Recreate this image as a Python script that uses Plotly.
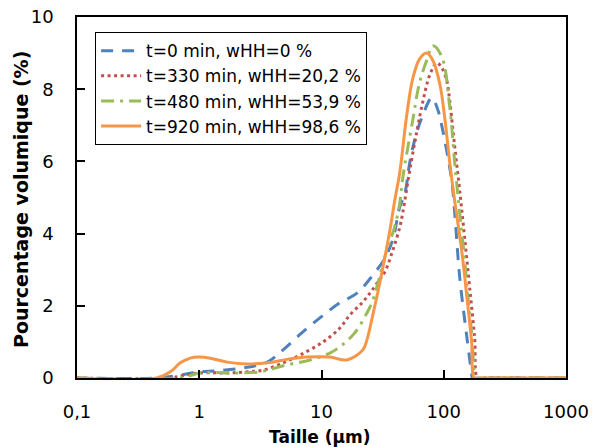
import plotly.graph_objects as go

# ---- data ----
series_names = ["t=0 min, wHH=0 %", "t=330 min, wHH=20,2 %",
                "t=480 min, wHH=53,9 %", "t=920 min, wHH=98,6 %"]

size_t0 = [0.1, 0.45, 0.7, 1.0, 1.4, 2.3, 3.6, 4.85, 6.9, 10, 14.1, 19.5, 26.3, 33, 38.4,
           43.7, 48, 52.7, 57.9, 66, 80, 89, 98, 116, 123, 135, 153, 169, 172, 200, 1000]
vol_t0 = [0, 0, 0.08, 0.17, 0.2, 0.28, 0.44, 0.78, 1.25, 1.7, 2.08, 2.35, 2.85, 3.32, 3.85,
          4.74, 5.1, 5.96, 6.6, 7.2, 7.76, 7.45, 6.87, 5.48, 4.57, 2.8, 1.25, 0.14, 0, 0, 0]

size_t330 = [0.1, 0.55, 0.75, 1.0, 1.7, 2.46, 3.33, 4.85, 6.7, 10.3, 14.1, 17.1, 21.4, 24.9,
             28.9, 33, 38.4, 43.7, 46.3, 52.7, 60, 67.4, 77, 87.6, 96, 105.6, 111.7, 123,
             135, 148, 163, 179, 189, 210, 1000]
vol_t330 = [0, 0, 0.07, 0.14, 0.14, 0.17, 0.22, 0.42, 0.64, 1.0, 1.38, 1.75, 2.08, 2.35,
            2.66, 2.94, 3.55, 4.18, 4.6, 5.75, 6.8, 7.65, 8.4, 8.73, 8.6, 8.25, 7.7, 6.4,
            5.2, 3.9, 2.5, 1.1, 0, 0, 0]

size_t480 = [0.1, 0.7, 1.02, 1.9, 3.15, 5.0, 8.06, 11.7, 14.7, 18.7, 23.5, 26.3, 34.3, 39.8,
             43.7, 46.3, 55.8, 63.3, 72.6, 81.5, 96.4, 112, 123, 135, 148, 157, 169, 176,
             179, 200, 1000]
vol_t480 = [0, 0, 0.14, 0.14, 0.17, 0.35, 0.5, 0.69, 0.91, 1.25, 1.8, 2.16, 3.55, 4.2,
            4.85, 5.57, 7.15, 8.17, 8.8, 9.2, 8.9, 7.5, 5.96, 4.57, 3.3, 2.3, 1.25, 0.3,
            0, 0, 0]

size_t920 = [0.1, 0.45, 0.58, 0.7, 0.845, 0.98, 1.23, 1.69, 2.46, 3.6, 5.5, 7.6, 11.7, 16.1,
             21.8, 23.5, 26.3, 30, 33, 36.3, 39.8, 43.7, 49.9, 55.8, 63.7, 72.6, 81.3, 92.8,
             102, 112, 123, 140, 154, 169, 178, 200, 1000]
vol_t920 = [0, 0, 0.17, 0.42, 0.55, 0.58, 0.55, 0.44, 0.39, 0.42, 0.53, 0.58, 0.58, 0.5,
            0.78, 1.05, 1.75, 2.63, 3.35, 4.1, 4.93, 5.7, 7.3, 8.3, 8.85, 9.0, 8.8, 8.15,
            7.2, 5.96, 4.9, 3.55, 2.3, 1.0, 0, 0, 0]

x_tick_vals = [0.1, 1, 10, 100, 1000]
x_tick_text = ["0,1", "1", "10", "100", "1000"]
y_tick_vals = [0, 2, 4, 6, 8, 10]

colors = ["#4F81BD", "#C0504D", "#9BBB59", "#F79646"]
dashes = ["12px,9px", "3px,3.5px", "13px,6px,3px,6px", "solid"]

FONT = "DejaVu Sans"

fig = go.Figure()
for name, xs, ys, c, d in zip(series_names,
                              [size_t0, size_t330, size_t480, size_t920],
                              [vol_t0, vol_t330, vol_t480, vol_t920],
                              colors, dashes):
    fig.add_trace(go.Scatter(x=xs, y=ys, mode="lines", name=name,
                             line=dict(color=c, width=3, dash=d, shape="spline",
                                       smoothing=1)))

fig.update_layout(
    width=592, height=447,
    margin=dict(l=77, r=26, t=17, b=69, autoexpand=False),
    paper_bgcolor="white", plot_bgcolor="white",
    font=dict(family=FONT, size=18, color="black"),
    showlegend=True,
    legend=dict(x=0.037, y=0.958, xanchor="left", yanchor="top",
                bgcolor="white", bordercolor="black", borderwidth=1,
                font=dict(family=FONT, size=17, color="black"),
                itemwidth=40, tracegroupgap=0),
    xaxis=dict(type="log", range=[-1, 3], tickvals=x_tick_vals, ticktext=x_tick_text,
               ticks="inside", ticklen=8, tickwidth=1.5, tickcolor="black",
               showline=True, linecolor="black", linewidth=1.5, mirror=True,
               showgrid=False, zeroline=False, ticklabelstandoff=17, automargin=False,
               tickfont=dict(family=FONT, size=18)),
    yaxis=dict(range=[0, 10], tickvals=y_tick_vals,
               ticks="inside", ticklen=8, tickwidth=1.5, tickcolor="black",
               showline=True, linecolor="black", linewidth=1.5, mirror=True,
               showgrid=False, zeroline=False, ticklabelstandoff=18, automargin=False,
               tickfont=dict(family=FONT, size=18)),
    annotations=[
        dict(text="<b>Taille (µm)</b>", xref="paper", yref="paper",
             x=0.497, y=-0.163, xanchor="center", yanchor="middle",
             showarrow=False, font=dict(family=FONT, size=17)),
        dict(text="<b>Pourcentage volumique (%)</b>", xref="paper", yref="paper",
             x=-0.1145, y=0.493, xanchor="center", yanchor="middle", textangle=-90,
             showarrow=False, font=dict(family=FONT, size=19)),
    ],
)

fig.write_html("out.html", config={"displayModeBar": False},
               post_script="document.body.style.margin='0';"
                           "document.body.style.overflow='hidden';")
